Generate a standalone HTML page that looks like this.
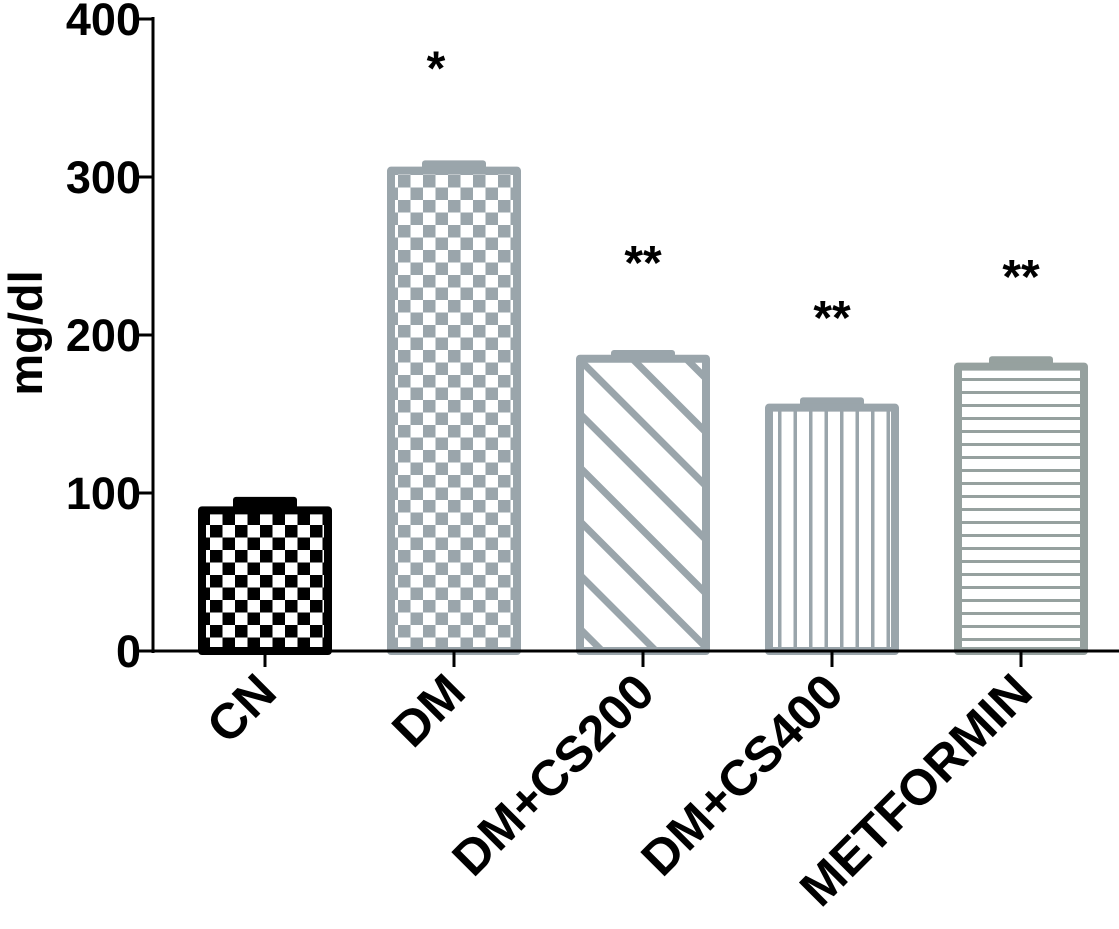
<!DOCTYPE html>
<html><head><meta charset="utf-8"><style>
html,body{margin:0;padding:0;background:#fff}
svg{display:block;font-family:"Liberation Sans",Arial,sans-serif;font-weight:bold}
</style></head><body>
<svg id="chart" width="1119" height="929" viewBox="0 0 1119 929" xmlns="http://www.w3.org/2000/svg">
<defs>
<pattern id="p-check-black" patternUnits="userSpaceOnUse" width="25" height="25" x="210" y="0"><rect width="25" height="25" fill="#fff"/><rect width="12.5" height="12.5" fill="#000"/><rect x="12.5" y="12.5" width="12.5" height="12.5" fill="#000"/></pattern>
<pattern id="p-check-gray" patternUnits="userSpaceOnUse" width="25" height="25" x="398" y="0"><rect width="25" height="25" fill="#fff"/><rect width="12.5" height="12.5" fill="#9aa5ab"/><rect x="12.5" y="12.5" width="12.5" height="12.5" fill="#9aa5ab"/></pattern>
<pattern id="p-diag" patternUnits="userSpaceOnUse" width="38" height="38" patternTransform="rotate(-45)"><rect width="38" height="38" fill="#fff"/><rect x="0" y="0" width="7" height="38" fill="#9aa5ab"/></pattern>
<pattern id="p-vert" patternUnits="userSpaceOnUse" width="15.5" height="10" x="766"><rect width="15.5" height="10" fill="#fff"/><rect x="12" width="3.5" height="10" fill="#9aa5ab"/></pattern>
<pattern id="p-horz" patternUnits="userSpaceOnUse" width="10" height="13" y="4"><rect width="10" height="13" fill="#fff"/><rect y="10" width="10" height="3.5" fill="#96a19f"/></pattern>
</defs>
<g id="bars"></g>
<g id="axes"></g>
</svg>
<script>
const categories = ["CN","DM","DM+CS200","DM+CS400","METFORMIN"];
const values = [89, 304, 185, 154, 180];
const errors = [6, 4, 3, 4, 4];
const stars = ["", "*", "**", "**", "**"];
const starValues = [0, 375, 252, 217, 243];
const yTicks = [0, 100, 200, 300, 400];

const NS = "http://www.w3.org/2000/svg";
const x0 = 153, y0 = 651, pxPer = 1.58;
const centers0 = 265, step = 189, barW = 126;
function yScale(v){ return y0 - v * pxPer; }
function xScale(i){ return centers0 + i * step; }
const fills = ["url(#p-check-black)","url(#p-check-gray)","url(#p-diag)","url(#p-vert)","url(#p-horz)"];
const strokes = ["#000","#9aa5ab","#9aa5ab","#9aa5ab","#96a19f"];
function mk(tag, attrs, parent){ const e=document.createElementNS(NS,tag); for(const k in attrs) e.setAttribute(k,attrs[k]); parent.appendChild(e); return e; }
const bars = document.getElementById("bars"), axes = document.getElementById("axes");

categories.forEach((c,i)=>{
  const cx = xScale(i), top = yScale(values[i]);
  const eb = mk("rect",{x:cx-32, y:yScale(values[i]+errors[i])-4, width:64, height:top-yScale(values[i]+errors[i])+8, rx:3, fill:strokes[i]}, bars);
  
  
  const r = mk("rect",{x:cx-barW/2, y:top, width:barW, height:y0-top, fill:fills[i], stroke:strokes[i], "stroke-width":8, "stroke-linejoin":"round"}, bars);
  
  
  if (stars[i]) {
    const s = mk("text",{x:cx-(i===1?18:0), y:yScale(starValues[i])+26, "text-anchor":"middle", "font-size":48, fill:"#000"}, axes);
    s.textContent = stars[i];
    
    
  }
  const t = mk("line",{x1:cx, y1:y0, x2:cx, y2:y0+16, stroke:"#000", "stroke-width":3}, axes);
  
  
  const lx = cx + 14, ly = y0 + 44;
  const l = mk("text",{x:lx, y:ly, "text-anchor":"end", "font-size":50, fill:"#000", transform:`rotate(-45 ${lx} ${ly})`}, axes);
  l.textContent = c;
  
  
});

const ya = mk("line",{x1:x0, y1:yScale(400)-2, x2:x0, y2:y0+2, stroke:"#000", "stroke-width":3}, axes);


const xa = mk("line",{x1:x0-2, y1:y0, x2:1119, y2:y0, stroke:"#000", "stroke-width":3}, axes);


yTicks.forEach(v=>{
  const y = yScale(v);
  const tk = mk("line",{x1:x0-16, y1:y, x2:x0, y2:y, stroke:"#000", "stroke-width":3}, axes);
  
  
  const tl = mk("text",{x:x0-12, y:y+16, "text-anchor":"end", "font-size":45, fill:"#000"}, axes);
  tl.textContent = v;
  
  
});
const yt = mk("text",{x:42, y:333, "text-anchor":"middle", "font-size":47, fill:"#000", transform:"rotate(-90 42 333)"}, axes);
yt.textContent = "mg/dl";


</script>
</body></html>
